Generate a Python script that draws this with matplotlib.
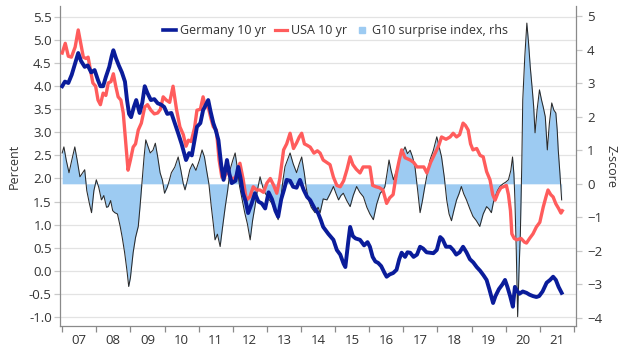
import matplotlib
matplotlib.use("Agg")
import matplotlib.pyplot as plt
from matplotlib.lines import Line2D
from matplotlib.ticker import FixedLocator, NullFormatter, FixedFormatter
import numpy as np

plt.rcParams['font.family'] = ['Open Sans', 'DejaVu Sans']

# ---------------- data (time in decimal years) ----------------
ger_t = [2007.00, 2007.08, 2007.18, 2007.28, 2007.40, 2007.47, 2007.55, 2007.66, 2007.75, 2007.85, 2007.95,
         2008.05, 2008.12, 2008.20, 2008.28, 2008.38, 2008.45, 2008.50, 2008.58, 2008.66, 2008.75, 2008.84,
         2008.90, 2008.96, 2009.02, 2009.10, 2009.17, 2009.27, 2009.35, 2009.42, 2009.50, 2009.60, 2009.70,
         2009.80, 2009.90, 2009.99, 2010.08, 2010.20, 2010.30, 2010.40, 2010.50, 2010.63, 2010.72, 2010.80,
         2010.95, 2011.05, 2011.13, 2011.28, 2011.35, 2011.43, 2011.50, 2011.58, 2011.66, 2011.73, 2011.83,
         2011.90, 2011.97, 2012.08, 2012.16, 2012.23, 2012.30, 2012.38, 2012.45, 2012.55, 2012.65, 2012.75,
         2012.85, 2012.95, 2013.05, 2013.15, 2013.25, 2013.33, 2013.42, 2013.50, 2013.58, 2013.68, 2013.77,
         2013.87, 2013.97, 2014.08, 2014.18, 2014.27, 2014.40, 2014.50, 2014.58, 2014.65, 2014.80, 2014.95,
         2015.05, 2015.15, 2015.25, 2015.30, 2015.38, 2015.44, 2015.52, 2015.60, 2015.73, 2015.85, 2015.95,
         2016.02, 2016.10, 2016.18, 2016.26, 2016.35, 2016.45, 2016.51, 2016.60, 2016.70, 2016.80, 2016.88,
         2016.95, 2017.05, 2017.12, 2017.20, 2017.30, 2017.40, 2017.49, 2017.58, 2017.68, 2017.78, 2017.88,
         2017.98, 2018.08, 2018.15, 2018.25, 2018.37, 2018.46, 2018.55, 2018.65, 2018.75, 2018.85, 2018.95,
         2019.05, 2019.15, 2019.25, 2019.35, 2019.44, 2019.52, 2019.63, 2019.70, 2019.80, 2019.90, 2019.98,
         2020.05, 2020.13, 2020.21, 2020.27, 2020.32, 2020.40, 2020.50, 2020.61, 2020.70, 2020.80, 2020.90,
         2020.98, 2021.08, 2021.20, 2021.30, 2021.39, 2021.47, 2021.55, 2021.64]
ger_y = [4.00, 4.10, 4.07, 4.25, 4.55, 4.72, 4.55, 4.42, 4.45, 4.30, 4.35,
         4.13, 4.00, 4.00, 4.20, 4.42, 4.65, 4.78, 4.60, 4.45, 4.30, 4.10,
         3.70, 3.40, 3.33, 3.55, 3.70, 3.42, 3.65, 4.00, 3.85, 3.70, 3.72,
         3.63, 3.60, 3.55, 3.40, 3.42, 3.20, 2.98, 2.75, 2.40, 2.55, 2.50,
         3.12, 3.20, 3.48, 3.70, 3.45, 3.20, 3.05, 2.83, 2.30, 1.97, 2.40,
         2.10, 1.90, 1.95, 2.25, 2.00, 1.68, 1.50, 1.25, 1.45, 1.68, 1.50,
         1.46, 1.35, 1.70, 1.55, 1.30, 1.17, 1.55, 1.75, 1.97, 1.95, 1.82,
         1.80, 1.97, 1.75, 1.60, 1.53, 1.35, 1.25, 1.10, 0.95, 0.80, 0.67,
         0.45, 0.35, 0.15, 0.08, 0.60, 0.95, 0.75, 0.70, 0.67, 0.55, 0.62,
         0.52, 0.30, 0.20, 0.17, 0.10, -0.05, -0.13, -0.08, -0.05, 0.02, 0.25,
         0.39, 0.30, 0.40, 0.39, 0.30, 0.35, 0.52, 0.48, 0.40, 0.39, 0.38,
         0.45, 0.73, 0.68, 0.52, 0.52, 0.45, 0.35, 0.40, 0.52, 0.40, 0.25,
         0.18, 0.08, 0.00, -0.10, -0.20, -0.40, -0.70, -0.55, -0.40, -0.30, -0.20,
         -0.35, -0.55, -0.78, -0.35, -0.42, -0.50, -0.45, -0.48, -0.52, -0.55, -0.57,
         -0.55, -0.45, -0.26, -0.20, -0.13, -0.20, -0.35, -0.48]

usa_t = [2007.00, 2007.09, 2007.18, 2007.27, 2007.38, 2007.47, 2007.55, 2007.62, 2007.70, 2007.76, 2007.84,
         2007.90, 2007.98, 2008.05, 2008.12, 2008.20, 2008.28, 2008.35, 2008.43, 2008.50, 2008.57, 2008.64,
         2008.72, 2008.79, 2008.86, 2008.93, 2009.00, 2009.08, 2009.15, 2009.23, 2009.32, 2009.42, 2009.50,
         2009.60, 2009.70, 2009.80, 2009.88, 2009.96, 2010.05, 2010.15, 2010.25, 2010.35, 2010.45, 2010.55,
         2010.63, 2010.70, 2010.78, 2010.88, 2010.95, 2011.05, 2011.13, 2011.20, 2011.28, 2011.36, 2011.43,
         2011.52, 2011.60, 2011.68, 2011.75, 2011.83, 2011.92, 2012.00, 2012.10, 2012.21, 2012.30, 2012.40,
         2012.50, 2012.60, 2012.70, 2012.80, 2012.90, 2013.00, 2013.10, 2013.20, 2013.29, 2013.38, 2013.49,
         2013.58, 2013.68, 2013.78, 2013.87, 2013.95, 2014.02, 2014.10, 2014.18, 2014.27, 2014.38, 2014.48,
         2014.56, 2014.65, 2014.75, 2014.85, 2014.95, 2015.05, 2015.15, 2015.25, 2015.35, 2015.44, 2015.52,
         2015.62, 2015.73, 2015.82, 2015.92, 2016.02, 2016.10, 2016.20, 2016.30, 2016.40, 2016.51, 2016.60,
         2016.70, 2016.80, 2016.88, 2016.95, 2017.05, 2017.20, 2017.30, 2017.40, 2017.49, 2017.60, 2017.69,
         2017.80, 2017.93, 2018.03, 2018.12, 2018.25, 2018.37, 2018.46, 2018.56, 2018.65, 2018.75, 2018.82,
         2018.90, 2018.97, 2019.04, 2019.15, 2019.25, 2019.34, 2019.44, 2019.54, 2019.62, 2019.69, 2019.78,
         2019.86, 2019.93, 2020.02, 2020.08, 2020.14, 2020.18, 2020.25, 2020.32, 2020.45, 2020.55, 2020.61,
         2020.70, 2020.80, 2020.90, 2021.00, 2021.10, 2021.18, 2021.24, 2021.32, 2021.39, 2021.47, 2021.55,
         2021.62, 2021.66]
usa_y = [4.72, 4.93, 4.65, 4.63, 4.85, 5.22, 4.90, 4.63, 4.60, 4.63, 4.30,
         4.07, 4.00, 3.70, 3.60, 3.85, 3.80, 4.07, 4.10, 4.27, 4.00, 3.77,
         3.70, 3.42, 2.80, 2.18, 2.40, 2.68, 2.75, 3.05, 3.20, 3.55, 3.60,
         3.48, 3.40, 3.42, 3.50, 3.77, 3.70, 3.65, 4.00, 3.50, 3.12, 2.95,
         2.70, 2.83, 2.80, 3.10, 3.48, 3.50, 3.77, 3.55, 3.55, 3.30, 3.12,
         3.05, 2.40, 2.03, 2.00, 2.18, 2.05, 1.97, 2.05, 2.33, 2.00, 1.53,
         1.60, 1.82, 1.75, 1.75, 1.70, 1.90, 2.00, 1.85, 1.68, 2.00, 2.62,
         2.75, 2.98, 2.65, 2.77, 2.90, 2.98, 2.75, 2.72, 2.68, 2.55, 2.60,
         2.55, 2.40, 2.35, 2.30, 2.03, 1.85, 1.82, 1.95, 2.20, 2.47, 2.30,
         2.20, 2.12, 2.25, 2.25, 2.25, 1.85, 1.82, 1.80, 1.75, 1.46, 1.58,
         1.65, 2.12, 2.40, 2.62, 2.45, 2.40, 2.35, 2.25, 2.25, 2.25, 2.12,
         2.35, 2.55, 2.70, 2.90, 2.85, 2.90, 2.98, 2.90, 2.95, 3.20, 3.15,
         3.05, 2.75, 2.62, 2.65, 2.50, 2.47, 2.15, 1.97, 1.65, 1.53, 1.70,
         1.80, 1.82, 1.85, 1.65, 1.30, 0.80, 0.70, 0.67, 0.70, 0.62, 0.60,
         0.70, 0.80, 0.95, 1.05, 1.38, 1.60, 1.75, 1.65, 1.60, 1.45, 1.35,
         1.25, 1.30]

g10_t = [2007.00, 2007.05, 2007.12, 2007.20, 2007.28, 2007.37, 2007.44, 2007.52, 2007.58, 2007.66, 2007.72,
         2007.80, 2007.86, 2007.93, 2008.00, 2008.07, 2008.15, 2008.22, 2008.30, 2008.35, 2008.42, 2008.48,
         2008.54, 2008.62, 2008.70, 2008.76, 2008.83, 2008.90, 2008.95, 2009.00, 2009.08, 2009.15, 2009.23,
         2009.28, 2009.33, 2009.40, 2009.45, 2009.52, 2009.58, 2009.66, 2009.73, 2009.80, 2009.87, 2009.94,
         2010.00, 2010.08, 2010.14, 2010.20, 2010.30, 2010.40, 2010.48, 2010.55, 2010.60, 2010.67, 2010.74,
         2010.82, 2010.92, 2011.02, 2011.10, 2011.17, 2011.23, 2011.30, 2011.37, 2011.43, 2011.48, 2011.55,
         2011.63, 2011.70, 2011.78, 2011.85, 2011.92, 2012.00, 2012.07, 2012.13, 2012.20, 2012.28, 2012.35,
         2012.43, 2012.51, 2012.58, 2012.65, 2012.72, 2012.80, 2012.88, 2012.95, 2013.05, 2013.14, 2013.24,
         2013.33, 2013.40, 2013.47, 2013.53, 2013.60, 2013.68, 2013.77, 2013.87, 2013.95, 2014.02, 2014.10,
         2014.15, 2014.22, 2014.30, 2014.41, 2014.50, 2014.56, 2014.65, 2014.76, 2014.85, 2014.95, 2015.03,
         2015.10, 2015.17, 2015.24, 2015.34, 2015.44, 2015.53, 2015.63, 2015.72, 2015.83, 2015.93, 2016.02,
         2016.12, 2016.22, 2016.32, 2016.40, 2016.46, 2016.52, 2016.58, 2016.64, 2016.71, 2016.80, 2016.90,
         2016.98, 2017.05, 2017.12, 2017.20, 2017.27, 2017.34, 2017.42, 2017.49, 2017.56, 2017.63, 2017.70,
         2017.78, 2017.88, 2017.98, 2018.05, 2018.12, 2018.20, 2018.27, 2018.34, 2018.41, 2018.48, 2018.56,
         2018.63, 2018.70, 2018.77, 2018.85, 2018.95, 2019.04, 2019.14, 2019.24, 2019.34, 2019.44, 2019.51,
         2019.58, 2019.64, 2019.69, 2019.76, 2019.83, 2019.92, 2020.00, 2020.08, 2020.15, 2020.20, 2020.24,
         2020.27, 2020.31, 2020.35, 2020.39, 2020.43, 2020.47, 2020.50, 2020.56, 2020.62, 2020.67, 2020.72,
         2020.78, 2020.82, 2020.86, 2020.92, 2020.99, 2021.05, 2021.10, 2021.16, 2021.22, 2021.28, 2021.35,
         2021.41, 2021.47, 2021.51, 2021.54, 2021.59, 2021.64]
g10_z = [0.92, 1.10, 0.70, 0.33, 0.70, 1.10, 0.70, 0.21, 0.30, 0.42, -0.20,
         -0.60, -0.86, -0.20, 0.12, -0.10, -0.48, -0.35, -0.70, -0.68, -0.50, -0.80,
         -0.86, -0.90, -1.27, -1.60, -2.05, -2.60, -3.06, -2.80, -2.05, -1.60, -1.27,
         -0.70, -0.08, 0.80, 1.31, 1.10, 0.92, 1.00, 1.21, 0.80, 0.33, 0.10,
         -0.28, -0.10, 0.10, 0.33, 0.50, 0.80, 0.40, 0.00, -0.18, 0.10, 0.42,
         0.60, 0.40, 0.70, 1.01, 0.80, 0.42, 0.00, -0.68, -1.20, -1.67, -1.50,
         -1.87, -1.30, -0.68, -0.20, 0.42, 0.70, 0.92, 0.50, -0.08, -0.50, -0.86,
         -1.20, -1.67, -1.10, -0.68, -0.20, 0.21, -0.10, -0.28, -0.45, -0.57, -0.80,
         -1.07, -0.50, 0.10, 0.51, 0.70, 0.92, 0.60, 0.33, 0.60, 0.80, 0.30,
         -0.10, -0.48, -0.70, -0.86, -0.70, -0.86, -0.45, -0.48, -0.30, -0.08, -0.30,
         -0.48, -0.35, -0.28, -0.50, -0.68, -0.35, -0.08, -0.25, -0.39, -0.70, -0.90,
         -1.07, -0.60, -0.28, -0.20, -0.08, 0.30, 0.71, 0.40, 0.12, 0.40, 0.80,
         0.95, 1.10, 0.90, 1.00, 0.80, 0.51, -0.20, -0.86, -0.50, -0.08, 0.30,
         0.71, 1.00, 1.40, 1.10, 0.80, 0.20, -0.48, -0.90, -1.10, -0.80, -0.48,
         -0.30, -0.08, -0.30, -0.48, -0.75, -0.97, -1.10, -1.27, -0.90, -0.68, -0.75,
         -0.86, -0.55, -0.39, -0.20, -0.08, 0.00, 0.05, 0.12, 0.40, 0.80, 0.30,
         -0.48, -2.00, -3.96, -2.60, -1.46, 0.50, 2.50, 3.80, 4.79, 4.20, 3.48,
         2.80, 2.30, 1.52, 2.20, 2.80, 2.50, 2.29, 2.00, 1.01, 1.80, 2.41,
         2.20, 2.11, 1.60, 1.01, 0.30, -0.48]

years = list(range(2007, 2023))
year_labels = ['07', '08', '09', '10', '11', '12', '13', '14', '15', '16', '17', '18', '19', '20', '21']
left_ticks = [-1.0, -0.5, 0.0, 0.5, 1.0, 1.5, 2.0, 2.5, 3.0, 3.5, 4.0, 4.5, 5.0, 5.5]
right_ticks = [-4, -3, -2, -1, 0, 1, 2, 3, 4, 5]

# ---------------- styling ----------------
C_GER = '#0a1c9a'
C_USA = '#ff5c5c'
C_FILL = '#9dcbf2'
C_SPINE = '#8a8a8a'
C_TICK = '#c8c8c8'
TXT = '#333333'

fig = plt.figure(figsize=(6.2, 3.51), dpi=100)
ax = fig.add_axes([0.097, 0.071, 0.832, 0.912])
ax2 = ax.twinx()
ax3 = ax.twinx()

LEFT_LIM = (-1.2, 5.74)
RIGHT_LIM = (-4.24, 5.3)
XLIM = (2006.94, 2022.06)

# grid on base axis
ax.set_ylim(*LEFT_LIM)
ax.set_xlim(*XLIM)
ax.set_yticks(left_ticks)
ax.set_yticklabels([f'{v:.1f}' for v in left_ticks])
ax.grid(axis='y', color='#e3e3e3', linewidth=0.9)
ax.set_axisbelow(True)
ax.tick_params(axis='y', length=4, width=0.9, color=C_TICK, pad=2, labelsize=9.5, labelcolor=TXT)
ax.set_ylabel('Percent', fontsize=9, color=TXT, labelpad=6)

# x ticks: majors at year boundaries, labels at mid-year minors
ax.xaxis.set_major_locator(FixedLocator(years))
ax.xaxis.set_major_formatter(NullFormatter())
ax.xaxis.set_minor_locator(FixedLocator([y + 0.5 for y in years[:-1]]))
ax.xaxis.set_minor_formatter(FixedFormatter(year_labels))
ax.tick_params(axis='x', which='major', length=4, width=0.9, color=C_SPINE, direction='out')
ax.tick_params(axis='x', which='minor', length=0, pad=6, labelsize=9.5, labelcolor=TXT)

# surprise index on right axis
ax2.fill_between(g10_t, 0, g10_z, color=C_FILL, linewidth=0)
ax2.plot(g10_t, g10_z, color='#2a2a2a', linewidth=0.75)
ax2.set_ylim(*RIGHT_LIM)
ax2.set_yticks(right_ticks)
ax2.tick_params(axis='y', direction='out', length=4, width=0.9, color=C_TICK, pad=4,
                labelsize=9.5, labelcolor=TXT)
ax2.set_ylabel('Z-score', fontsize=9, color=TXT, rotation=270, labelpad=11)

# bond yields on top, same scale as left
ax3.set_ylim(*LEFT_LIM)
ax3.plot(usa_t, usa_y, color=C_USA, linewidth=2.4, solid_joinstyle='round')
ax3.plot(ger_t, ger_y, color=C_GER, linewidth=2.8, solid_joinstyle='round')
ax3.set_yticks([])
for s in ax3.spines.values():
    s.set_visible(False)

for a in (ax, ax2):
    a.spines['top'].set_visible(False)
    for k in ('left', 'right', 'bottom'):
        a.spines[k].set_color(C_SPINE)
        a.spines[k].set_linewidth(0.9)
ax.spines['right'].set_visible(False)
ax2.spines['left'].set_visible(False)
ax2.spines['bottom'].set_visible(False)

handles = [Line2D([], [], color=C_GER, linewidth=2.6),
           Line2D([], [], color=C_USA, linewidth=2.3),
           Line2D([], [], color=C_FILL, marker='s', linestyle='none', markersize=5)]
labels = ['Germany 10 yr', 'USA 10 yr', 'G10 surprise index, rhs']
ax3.legend(handles, labels, ncol=3, frameon=False, loc='center right',
           bbox_to_anchor=(0.868, 0.922), fontsize=9, handlelength=1.0,
           handletextpad=0.3, columnspacing=0.7, labelcolor=TXT, borderaxespad=0,
           borderpad=0)

fig.savefig('out.png', dpi=100)
